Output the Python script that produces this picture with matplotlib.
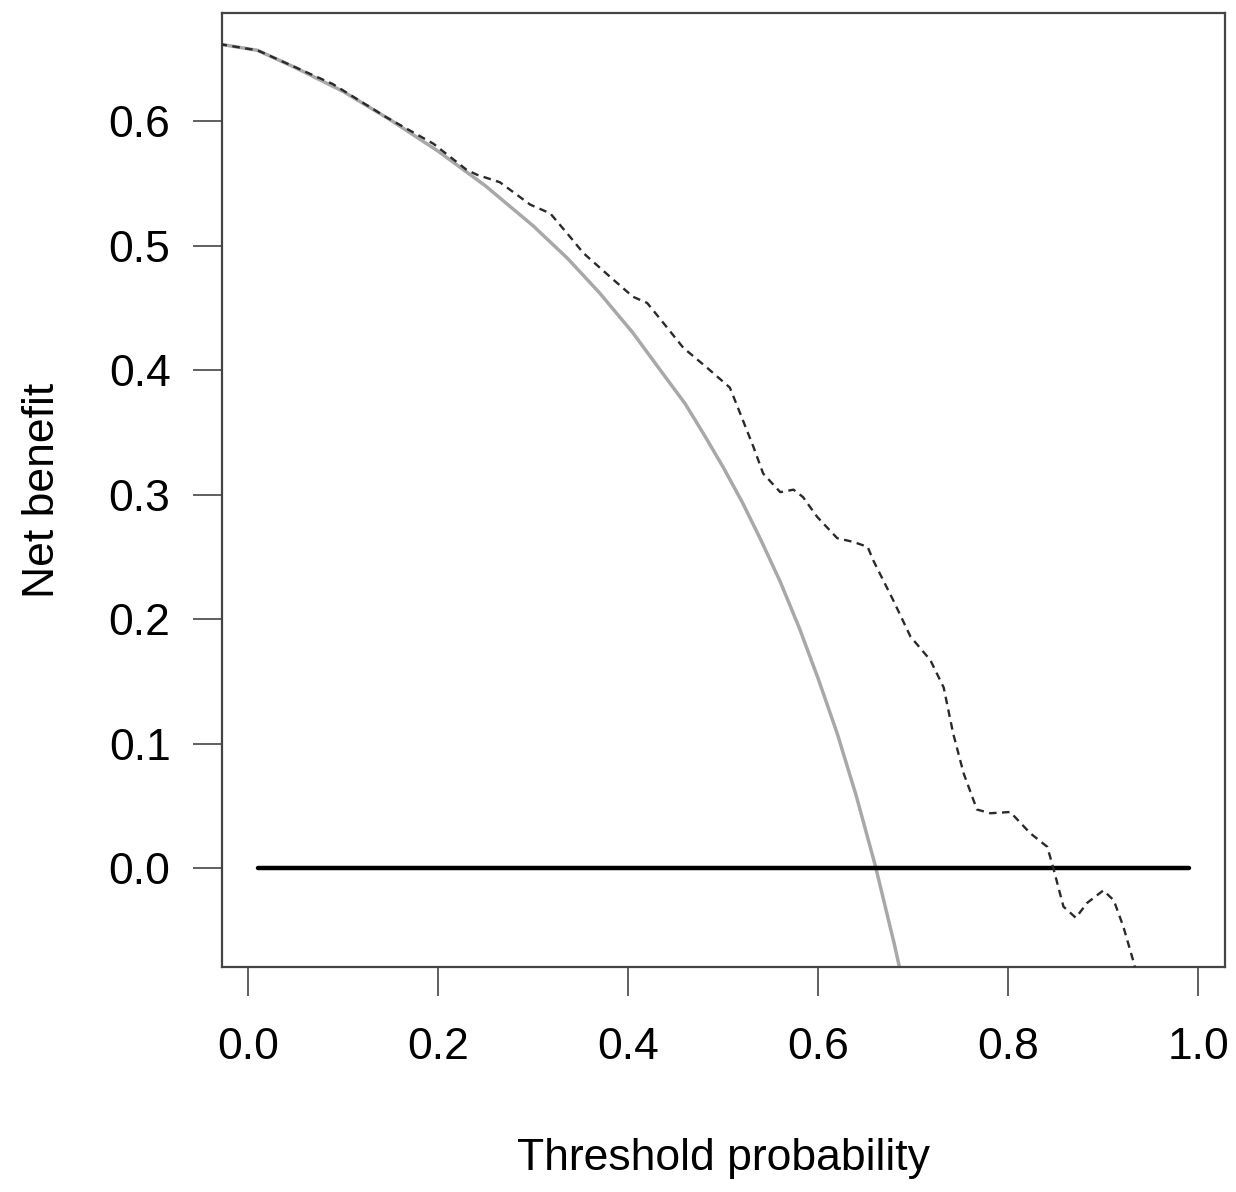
import numpy as np
import matplotlib
matplotlib.use("Agg")
import matplotlib.pyplot as plt

plt.rcParams['font.family'] = ['Liberation Sans', 'DejaVu Sans']

# readings
# treat-all curve (grey)
all_x = [-0.03, 0.01, 0.05, 0.10, 0.15, 0.20, 0.25, 0.30, 0.336, 0.37, 0.405, 0.43,
         0.46, 0.48, 0.50, 0.52, 0.54, 0.56, 0.58, 0.60, 0.62, 0.64, 0.66, 0.68, 0.70]
all_y = [0.662, 0.657, 0.643, 0.624, 0.601, 0.576, 0.548, 0.516, 0.490, 0.462, 0.430,
         0.404, 0.373, 0.348, 0.322, 0.294, 0.263, 0.230, 0.193, 0.152, 0.108, 0.058,
         0.002, -0.061, -0.13]

# model curve (dashed)
model_x = [-0.03, 0.01, 0.089, 0.146, 0.195, 0.23, 0.241, 0.265, 0.297, 0.318, 0.339,
           0.353, 0.381, 0.405, 0.42, 0.437, 0.458, 0.483, 0.507, 0.518, 0.532, 0.542,
           0.56, 0.574, 0.584, 0.599, 0.62, 0.637, 0.652, 0.658, 0.679, 0.697, 0.718,
           0.732, 0.742, 0.753, 0.767, 0.781, 0.802, 0.823, 0.841, 0.847, 0.858,
           0.871, 0.883, 0.90, 0.911, 0.921, 0.932, 0.94]
model_y = [0.662, 0.657, 0.630, 0.603, 0.582, 0.561, 0.557, 0.551, 0.533, 0.526, 0.507,
           0.494, 0.475, 0.459, 0.454, 0.438, 0.418, 0.402, 0.386, 0.365, 0.338, 0.317,
           0.302, 0.304, 0.298, 0.282, 0.265, 0.262, 0.258, 0.247, 0.215, 0.186, 0.167,
           0.145, 0.108, 0.076, 0.047, 0.044, 0.045, 0.028, 0.017, 0.001, -0.031,
           -0.040, -0.028, -0.018, -0.026, -0.047, -0.076, -0.10]

# treat-none line
none_x = [0.01, 0.99]
none_y = [0.0, 0.0]

xticks = [0.0, 0.2, 0.4, 0.6, 0.8, 1.0]
yticks = [0.0, 0.1, 0.2, 0.3, 0.4, 0.5, 0.6]

fig = plt.figure(figsize=(12.36, 11.92), dpi=100)
ax = fig.add_axes([0.1796, 0.1888, 0.8115, 0.8003])

ax.plot(none_x, none_y, color='black', lw=3.2, solid_capstyle='round', zorder=3)
ax.plot(all_x, all_y, color='#a8a8a8', lw=2.5, zorder=2)
ax.plot(model_x, model_y, color='#2a2a2a', lw=1.7, ls=(0, (3.2, 2.3)), zorder=4)

ax.set_xlim(-0.0274, 1.028)
ax.set_ylim(-0.0795, 0.687)
ax.set_xticks(xticks)
ax.set_yticks(yticks)
ax.set_xticklabels(['%.1f' % v for v in xticks])
ax.set_yticklabels(['%.1f' % v for v in yticks])

for s in ax.spines.values():
    s.set_color('#444444')
    s.set_linewidth(1.6)

ax.tick_params(axis='both', direction='out', length=21, width=1.2, color='#444444',
               labelsize=32)
ax.tick_params(axis='x', pad=22)
ax.tick_params(axis='y', pad=16)

ax.set_xlabel('Threshold probability', fontsize=32)
ax.set_ylabel('Net benefit', fontsize=32)
ax.xaxis.set_label_coords(0.5, -0.179)
ax.yaxis.set_label_coords(-0.159, 0.5)

fig.savefig('out.png', dpi=100, facecolor='white')
